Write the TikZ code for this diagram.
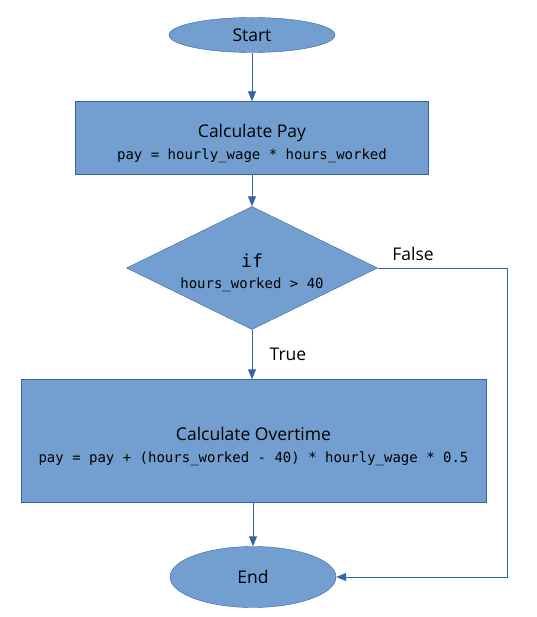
\documentclass[tikz,border=0pt]{standalone}
\usepackage{fontspec}
\setmainfont{Open Sans}
\setmonofont{DejaVu Sans Mono}
\usetikzlibrary{positioning,shapes.geometric,arrows.meta}
\definecolor{boxfill}{HTML}{729FCF}
\definecolor{boxline}{HTML}{3465A4}
\newcommand{\titlefont}{\fontsize{17.5}{22}\selectfont}
\newcommand{\codefont}{\fontsize{14}{22}\selectfont\ttfamily}
\newcommand{\lowerstrut}{\rule{0pt}{24pt}}
\tikzset{%
    terminal/.style={
      ellipse,
      draw=boxline,
      fill=boxfill,
      inner sep=0pt,
      minimum width=166pt,
      font=\titlefont
    },
    process/.style={
      rectangle,
      draw=boxline,
      fill=boxfill,
      inner sep=0pt,
      align=center,
      font=\titlefont
    },
    decision/.style={
      diamond,
      draw=boxline,
      fill=boxfill,
      aspect=2,
      inner sep=0pt,
      minimum width=251pt,
      minimum height=123pt,
      align=center,
      font=\titlefont
    },
    flow/.style={
      draw=boxline,
      line width=0.9pt,
      ->
    },
    branch/.style={
      font=\titlefont
    }
  }

\begin{document}
\begin{tikzpicture}[x=1pt, y=-1pt, >={Triangle[length=10pt, width=8pt]}]
      \useasboundingbox (0,0) rectangle (536,617);

      \node [terminal, minimum height=35pt] (start) at (252,35) {Start};

      \node [process, minimum width=353pt, minimum height=73pt] (pay) at (252,138)
        {\lowerstrut Calculate Pay\\{\codefont pay = hourly\_wage * hours\_worked}};

      \node [decision] (cond) at (252,268)
        {\lowerstrut{\fontsize{18}{22}\selectfont\ttfamily if}\\[-1pt]{\codefont hours\_worked > 40}};

      \node [process, minimum width=465pt, minimum height=123pt] (over) at (253.5,441)
        {\lowerstrut Calculate Overtime\\{\codefont pay = pay + (hours\_worked - 40) * hourly\_wage * 0.5}};

      \node [terminal, minimum height=61pt] (end) at (253,577) {End};

      \node [branch] (false) at (413,254) {False};
      \node [branch] (true) at (288,354) {True};

      \coordinate (falsecorner) at (507,268);

      \draw [flow] (start) -- (pay);
      \draw [flow] (pay) -- (cond);
      \draw [flow] (cond.south) -- (cond.south |- over.north);
      \draw [flow] (over.south -| end.north) -- (end.north);
      \draw [flow] (cond.east) -- (falsecorner) |- (end.east);
    \end{tikzpicture}
\end{document}
